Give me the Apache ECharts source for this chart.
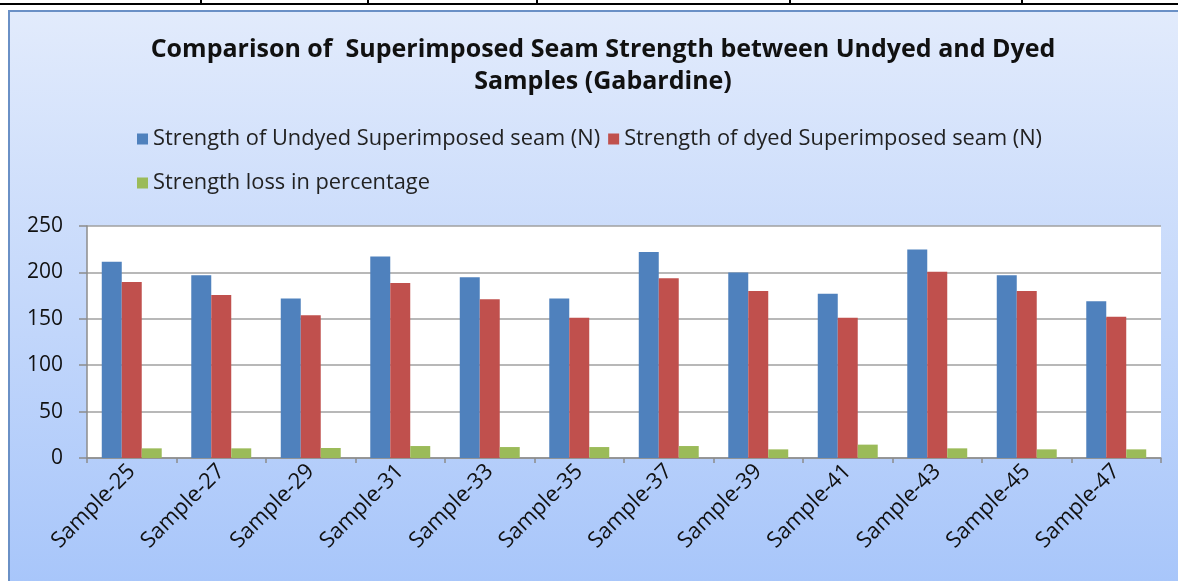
<!DOCTYPE html>
<html>
<head>
<meta charset="utf-8">
<script src="https://cdn.jsdelivr.net/npm/echarts@6/dist/echarts.min.js"></script>
<style>
html,body{margin:0;padding:0;background:#fff;}
#chart{width:1178px;height:581px;}
</style>
</head>
<body>
<div id="chart"></div>
<script>
const categories = ['Sample-25','Sample-27','Sample-29','Sample-31','Sample-33','Sample-35','Sample-37','Sample-39','Sample-41','Sample-43','Sample-45','Sample-47'];
const undyed = [211.5, 196.8, 172, 217, 194.7, 172, 222, 200, 177, 224.8, 196.8, 168.8];
const dyed = [189.7, 175.6, 153.7, 188.6, 171, 151.2, 193.6, 180, 151.2, 200.8, 180, 152.3];
const loss = [10.4, 10.4, 10.8, 12.9, 11.8, 11.8, 12.9, 9.3, 14.4, 10.4, 9.3, 9.3];
const yTicks = [0, 50, 100, 150, 200, 250];
const seriesNames = ['Strength of Undyed Superimposed seam (N)', 'Strength of dyed Superimposed seam (N)', 'Strength loss in percentage'];
const titleText = 'Comparison of  Superimposed Seam Strength between Undyed and Dyed\nSamples (Gabardine)';

const FONT = '"Open Sans", Lato, sans-serif';
const chart = echarts.init(document.getElementById('chart'), null, {renderer: 'canvas'});

const tableLines = [201, 368, 537, 790, 1022].map(x => ({
  type: 'rect', z: -90, shape: {x: x - 1, y: 0, width: 2, height: 5}, style: {fill: '#000'}
}));

chart.setOption({
  animation: false,
  textStyle: {fontFamily: FONT},
  graphic: [
    {type: 'rect', z: -100, shape: {x: 9, y: 11, width: 1200, height: 600},
     style: {fill: new echarts.graphic.LinearGradient(0, 0, 0, 1, [
       {offset: 0, color: '#e2ebfc'}, {offset: 1, color: '#a5c4fa'}]),
       stroke: '#6a90c6', lineWidth: 2}},
    {type: 'rect', z: -90, shape: {x: 0, y: 3, width: 1178, height: 2}, style: {fill: '#000'}},
    ...tableLines
  ],
  title: {
    text: titleText,
    left: 598, top: 29, textAlign: 'center',
    textStyle: {fontFamily: FONT, fontSize: 25, fontWeight: 'bold', color: '#111', lineHeight: 32}
  },
  legend: [
    {data: seriesNames.slice(0, 2), left: 132, top: 123, itemWidth: 11, itemHeight: 11, itemGap: 8,
     icon: 'rect', textStyle: {fontFamily: FONT, fontSize: 21.8, color: '#222'}},
    {data: seriesNames.slice(2), left: 132, top: 167, itemWidth: 11, itemHeight: 11,
     icon: 'rect', textStyle: {fontFamily: FONT, fontSize: 21.8, color: '#222'}}
  ],
  grid: {left: 87, right: 17, top: 226, bottom: 123, show: true, backgroundColor: '#fff', borderWidth: 0},
  xAxis: {
    type: 'category', data: categories,
    axisLine: {lineStyle: {color: '#8c8c8c', width: 1.5}},
    axisTick: {show: true, length: 5, lineStyle: {color: '#8c8c8c', width: 1.5}},
    axisLabel: {rotate: 45, fontFamily: FONT, fontSize: 22, color: '#111', margin: 10, interval: 0}
  },
  yAxis: {
    type: 'value', min: 0, max: 250, interval: 50,
    axisLine: {show: true, lineStyle: {color: '#8c8c8c', width: 1.5}},
    axisTick: {show: true, length: 8, lineStyle: {color: '#8c8c8c', width: 1.5}},
    splitLine: {lineStyle: {color: '#a0a0a0', width: 1.5}},
    axisLabel: {fontFamily: FONT, fontSize: 21, color: '#111', margin: 24,
      formatter: v => yTicks.includes(v) ? String(v) : ''}
  },
  series: [
    {name: seriesNames[0], type: 'bar', data: undyed, itemStyle: {color: '#4f81bd'}, barGap: '0%', barCategoryGap: '33%'},
    {name: seriesNames[1], type: 'bar', data: dyed, itemStyle: {color: '#c0504d'}},
    {name: seriesNames[2], type: 'bar', data: loss, itemStyle: {color: '#9bbb59'}}
  ]
});
</script>
</body>
</html>
